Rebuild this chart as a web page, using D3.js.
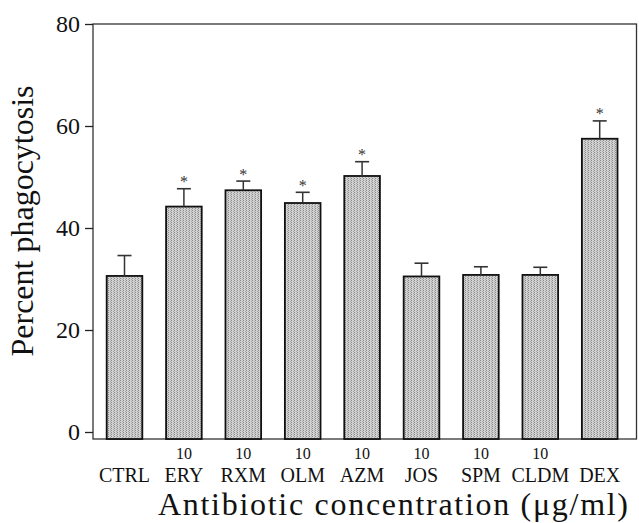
<!DOCTYPE html>
<html><head><meta charset="utf-8">
<script src="https://cdn.jsdelivr.net/npm/d3@7"></script>
<style>html,body{margin:0;padding:0;background:#fff;}svg{display:block;}</style>
</head><body>
<svg id="chart" width="639" height="523"></svg>
<script>
const categories = ["CTRL","ERY","RXM","OLM","AZM","JOS","SPM","CLDM","DEX"];
const doses = ["","10","10","10","10","10","10","10",""];
const means = [30.6, 44.2, 47.4, 44.9, 50.2, 30.5, 30.8, 30.8, 57.5];
const errors = [4.0, 3.5, 1.8, 2.1, 2.8, 2.6, 1.6, 1.5, 3.5];
const significant = [false, true, true, true, true, false, false, false, true];
const yTicks = [0, 20, 40, 60, 80];

const svg = d3.select("#chart");
const font = "'Liberation Serif','Times New Roman',serif";
const frame = {left: 93, right: 636.5, top: 24, bottom: 439};

const defs = svg.append("defs");
const pat = defs.append("pattern").attr("id","stip").attr("patternUnits","userSpaceOnUse")
  .attr("width",3).attr("height",2);
pat.append("rect").attr("width",3).attr("height",2).attr("fill","#d2d2d2");
pat.append("rect").attr("x",0).attr("y",0).attr("width",1).attr("height",1).attr("fill","#8a8a8a");
pat.append("rect").attr("x",2).attr("y",1).attr("width",1).attr("height",1).attr("fill","#a8a8a8");

const x = d3.scaleBand().domain(categories).range([94.8, 629.4]).paddingInner(0.4).paddingOuter(0.2);
const y = d3.scaleLinear().domain([0, 80]).range([432, 24]);

// frame
svg.append("rect").attr("x",frame.left).attr("y",frame.top)
  .attr("width",frame.right-frame.left).attr("height",frame.bottom-frame.top)
  .attr("fill","none").attr("stroke","#333").attr("stroke-width",1.3);

// y axis
const yAxis = svg.append("g").attr("transform",`translate(${frame.left},0)`)
  .call(d3.axisLeft(y).tickValues(yTicks).tickSize(8).tickPadding(5).tickFormat(d3.format("d")));
yAxis.select(".domain").remove();
yAxis.selectAll(".tick line").attr("stroke","#222").attr("stroke-width",1.3);
yAxis.selectAll(".tick text").attr("font-family",font).attr("font-size",24).attr("fill","#111");

const data = categories.map((c,i)=>({c, dose:doses[i], m:means[i], e:errors[i], s:significant[i]}));

// bars
svg.selectAll("rect.bar").data(data).enter().append("rect").attr("class","bar")
  .attr("x",d=>x(d.c)).attr("width",x.bandwidth())
  .attr("y",d=>y(d.m)).attr("height",d=>frame.bottom - y(d.m))
  .attr("fill","url(#stip)").attr("stroke","#111").attr("stroke-width",1.8);

// error bars
const eb = svg.selectAll("g.err").data(data).enter().append("g").attr("class","err");
eb.append("line").attr("x1",d=>x(d.c)+x.bandwidth()/2).attr("x2",d=>x(d.c)+x.bandwidth()/2)
  .attr("y1",d=>y(d.m)).attr("y2",d=>y(d.m+d.e)).attr("stroke","#333").attr("stroke-width",1.5);
eb.append("line").attr("x1",d=>x(d.c)+x.bandwidth()/2-7).attr("x2",d=>x(d.c)+x.bandwidth()/2+7)
  .attr("y1",d=>y(d.m+d.e)).attr("y2",d=>y(d.m+d.e)).attr("stroke","#333").attr("stroke-width",1.6);

// significance stars
svg.selectAll("text.star").data(data.filter(d=>d.s)).enter().append("text").attr("class","star")
  .attr("x",d=>x(d.c)+x.bandwidth()/2).attr("y",d=>y(d.m+d.e)-1.5)
  .attr("text-anchor","middle").attr("font-family",font).attr("font-size",16).attr("fill","#333").text("*");

// dose labels
svg.selectAll("text.dose").data(data).enter().append("text").attr("class","dose")
  .attr("x",d=>x(d.c)+x.bandwidth()/2).attr("y",459)
  .attr("text-anchor","middle").attr("font-family",font).attr("font-size",16).attr("fill","#111").text(d=>d.dose);

// category labels
svg.selectAll("text.cat").data(data).enter().append("text").attr("class","cat")
  .attr("x",d=>x(d.c)+x.bandwidth()/2).attr("y",482)
  .attr("text-anchor","middle").attr("font-family",font).attr("font-size",20).attr("fill","#111").text(d=>d.c);

// axis titles
svg.append("text").attr("x",393).attr("y",515).attr("text-anchor","middle")
  .attr("font-family",font).attr("font-size",32).attr("textLength",470).attr("lengthAdjust","spacing")
  .attr("fill","#111").text("Antibiotic concentration (μg/ml)");
svg.append("text").attr("transform","translate(33,221) rotate(-90)").attr("text-anchor","middle")
  .attr("font-family",font).attr("font-size",32).attr("fill","#111").text("Percent phagocytosis");
</script>
</body></html>
